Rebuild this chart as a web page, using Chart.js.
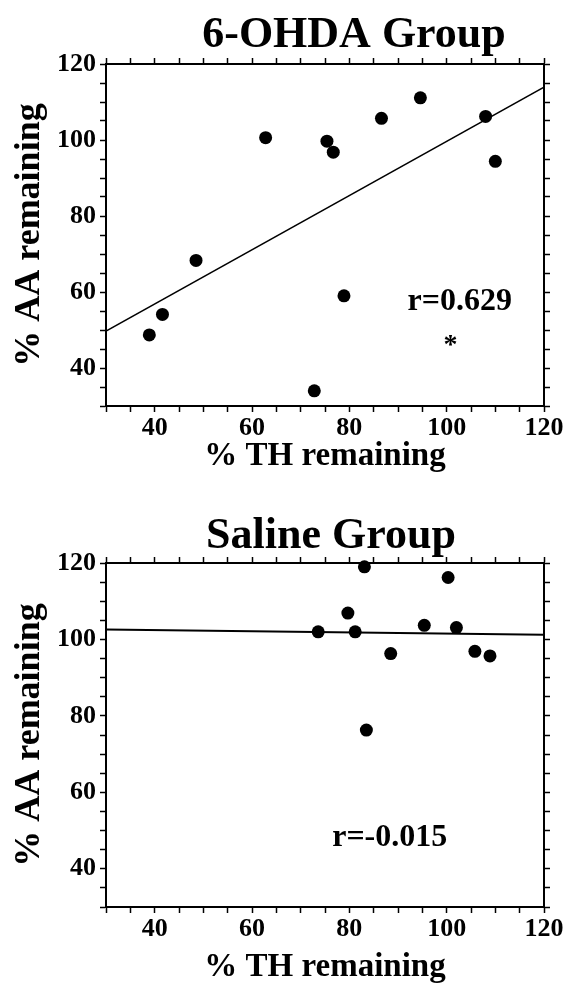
<!DOCTYPE html>
<html>
<head>
<meta charset="utf-8">
<script src="https://cdn.jsdelivr.net/npm/chart.js@4"></script>
<style>
  html, body { margin: 0; padding: 0; background: #fff; }
  canvas { display: block; }
</style>
</head>
<body>
<canvas id="ohdaChart" width="566" height="485"></canvas>
<canvas id="salineChart" width="566" height="500"></canvas>
<script>
// 6-OHDA group: % TH remaining (x) vs % AA remaining (y)
const ohdaTH = [38.9, 41.6, 48.5, 62.8, 72.8, 75.4, 76.7, 78.9, 86.6, 94.6, 108.0, 110.0];
const ohdaAA = [48.7, 54.1, 68.3, 100.6, 34.0, 99.7, 96.8, 59.0, 105.7, 111.1, 106.2, 94.4];
const ohdaFitX = [30, 120];
const ohdaFitY = [49.7, 113.9];

// saline group
const salineTH = [73.6, 79.7, 81.2, 83.1, 83.5, 88.5, 95.4, 100.3, 102.0, 105.8, 108.9];
const salineAA = [102.0, 106.9, 102.0, 119.0, 76.3, 96.3, 103.7, 116.2, 103.1, 96.9, 95.7];
const salineFitX = [30, 120];
const salineFitY = [102.6, 101.2];

// shared axis range / tick steps
const axisMin = 30;
const axisMax = 120;
const minorStep = 5;
const labelStep = 20;

const serif = "'Liberation Serif', 'DejaVu Serif', serif";

// titles + r values drawn straight on the canvas
const figText = {
    id: "figText",
    afterDraw(chart, args, opts) {
        const { ctx, scales } = chart;
        ctx.save();
        ctx.fillStyle = "#000";
        ctx.textAlign = "center";
        ctx.textBaseline = "alphabetic";
        ctx.font = `bold ${opts.titleSize}px ${serif}`;
        ctx.fillText(opts.title, opts.titleX, opts.titleY);
        (opts.notes || []).forEach(n => {
            ctx.font = `bold ${n.size}px ${serif}`;
            ctx.fillText(n.text, scales.x.getPixelForValue(n.x), scales.y.getPixelForValue(n.y));
        });
        ctx.restore();
    }
};

const tickLabel = v => (v % labelStep === 0 && v > axisMin ? v : "");
const tickFont = { family: serif, size: 26, weight: "bold" };

function axis(position, size, extra) {
    const horiz = position === "bottom" || position === "top";
    return Object.assign({
        type: "linear",
        position,
        min: axisMin,
        max: axisMax,
        border: { display: true, color: "#000", width: 2 },
        grid: { drawOnChartArea: false, drawTicks: true, tickLength: 6, tickWidth: 1.5, tickColor: "#000" },
        ticks: {
            display: false,
            stepSize: minorStep,
            autoSkip: false,
            maxRotation: 0
        },
        afterFit: s => { if (horiz) s.height = size; else s.width = size; }
    }, extra || {});
}

function build(id, th, aa, fitX, fitY, cfg) {
    const points = th.map((x, i) => ({ x, y: aa[i] }));
    const fit = fitX.map((x, i) => ({ x, y: fitY[i] }));

    return new Chart(document.getElementById(id), {
        type: "scatter",
        data: {
            datasets: [
                {
                    data: points,
                    backgroundColor: "#000",
                    borderWidth: 0,
                    pointRadius: 6.5,
                    pointHoverRadius: 6.5,
                    clip: false
                },
                {
                    type: "line",
                    data: fit,
                    borderColor: "#000",
                    borderWidth: cfg.fitWidth,
                    pointRadius: 0,
                    fill: false,
                    tension: 0
                }
            ]
        },
        options: {
            responsive: false,
            animation: false,
            devicePixelRatio: 1,
            layout: { padding: 0 },
            plugins: {
                legend: { display: false },
                tooltip: { enabled: false },
                figText: cfg.text
            },
            scales: {
                x: axis("bottom", cfg.bottom, {
                    ticks: {
                        stepSize: minorStep, autoSkip: false, maxRotation: 0, padding: 1, color: "#000",
                        font: tickFont, callback: tickLabel
                    },
                    title: {
                        display: true, text: "% TH remaining", color: "#000",
                        font: { family: serif, size: 33, weight: "bold", lineHeight: 1 },
                        padding: { top: 0, bottom: cfg.xTitlePad }
                    }
                }),
                x2: axis("top", cfg.top),
                y: axis("left", 106, {
                    ticks: {
                        stepSize: minorStep, autoSkip: false, padding: 4, color: "#000",
                        font: tickFont, callback: tickLabel
                    },
                    title: {
                        display: true, text: "% AA remaining", color: "#000",
                        font: { family: serif, size: 36, weight: "bold", lineHeight: 1 },
                        padding: { top: 12, bottom: 0 }
                    }
                }),
                y2: axis("right", 22)
            }
        },
        plugins: [figText]
    });
}

build("ohdaChart", ohdaTH, ohdaAA, ohdaFitX, ohdaFitY, {
    top: 64,
    bottom: 79,
    xTitlePad: 12,
    fitWidth: 1.5,
    text: {
        title: "6-OHDA Group", titleSize: 44, titleX: 354, titleY: 47,
        notes: [
            { text: "r=0.629", size: 32, x: 102.7, y: 55.3 },
            { text: "*", size: 28, x: 100.8, y: 44.0 }
        ]
    }
});

build("salineChart", salineTH, salineAA, salineFitX, salineFitY, {
    top: 78,
    bottom: 78,
    xTitlePad: 1,
    fitWidth: 2,
    text: {
        title: "Saline Group", titleSize: 44, titleX: 331, titleY: 63,
        notes: [
            { text: "r=-0.015", size: 32, x: 88.3, y: 46.0 }
        ]
    }
});
</script>
</body>
</html>
